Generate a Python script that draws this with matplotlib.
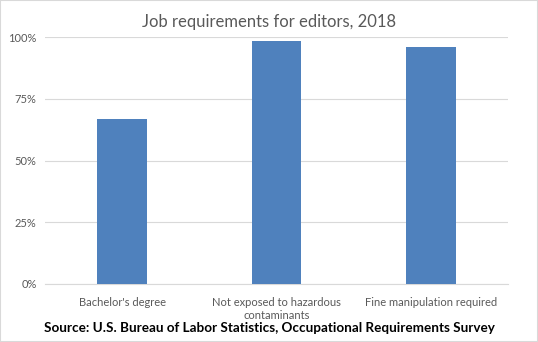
import matplotlib.pyplot as plt
from matplotlib.patches import Rectangle

categories = ["Bachelor's degree", "Not exposed to hazardous\ncontaminants", "Fine manipulation required"]
values = [66.8, 98.4, 96.0]
yticks = [0, 25, 50, 75, 100]

plt.rcParams['font.family'] = ['Lato', 'DejaVu Sans']

fig = plt.figure(figsize=(5.38, 3.42), dpi=100)
ax = fig.add_axes([45 / 538, 58 / 342, 463 / 538, 247 / 342])

ax.bar(range(len(categories)), values, width=0.32, color='#4F81BD', zorder=3)
ax.set_xlim(-0.5, len(categories) - 0.5)
ax.set_ylim(0, 100)
ax.set_yticks(yticks)
ax.set_yticklabels([f"{t}%" for t in yticks])
ax.set_xticks(range(len(categories)))
ax.set_xticklabels(categories, linespacing=1.3)
ax.grid(axis='y', color='#D9D9D9', linewidth=0.8, zorder=0)
for s in ['top', 'right', 'left']:
    ax.spines[s].set_visible(False)
ax.spines['bottom'].set_color('#D9D9D9')
ax.tick_params(length=0, labelsize=8, colors='#595959', pad=6)
ax.tick_params(axis='x', pad=9)

fig.text(0.5, 1 - 22 / 342, "Job requirements for editors, 2018", ha='center', va='center',
         fontsize=12, color='#595959')
fig.text(0.5, 1 - 328 / 342, "Source: U.S. Bureau of Labor Statistics, Occupational Requirements Survey",
         ha='center', va='center', fontsize=9.7, fontweight='bold', color='black')

fig.patches.append(Rectangle((0, 0), 1, 1, transform=fig.transFigure, fill=False,
                             edgecolor='#D9D9D9', linewidth=1.5))

fig.savefig("out.png", dpi=100)
